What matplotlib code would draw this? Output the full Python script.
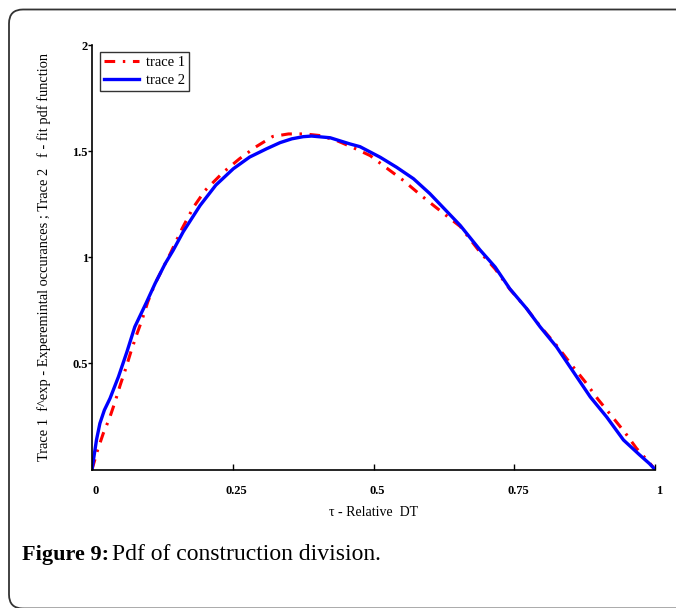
import matplotlib
matplotlib.use('Agg')
import matplotlib.pyplot as plt
import matplotlib.transforms as mtransforms
from matplotlib.patches import FancyBboxPatch

plt.rcParams['font.family'] = ['Liberation Serif', 'DejaVu Serif']

# trace 1 - experimental occurances (red, dash-dot)
x1 = [0.0, 0.010, 0.020, 0.031, 0.041, 0.050, 0.060, 0.069, 0.079, 0.089, 0.099,
      0.112, 0.127, 0.139, 0.160, 0.180, 0.201, 0.233, 0.262, 0.291, 0.321, 0.349,
      0.378, 0.406, 0.437, 0.465, 0.494, 0.523, 0.553, 0.581, 0.609, 0.630, 0.654,
      0.689, 0.716, 0.742, 0.772, 0.796, 0.825, 0.852, 0.876, 0.899, 0.923, 0.947,
      0.967, 0.991, 1.0]
y1 = [0.0, 0.092, 0.170, 0.241, 0.319, 0.397, 0.476, 0.554, 0.633, 0.706, 0.789,
      0.876, 0.954, 1.017, 1.135, 1.235, 1.315, 1.400, 1.464, 1.520, 1.569, 1.581,
      1.581, 1.573, 1.547, 1.515, 1.479, 1.421, 1.362, 1.299, 1.239, 1.195, 1.145,
      1.025, 0.945, 0.850, 0.758, 0.675, 0.585, 0.492, 0.413, 0.330, 0.252, 0.173,
      0.100, 0.029, 0.0]

# trace 2 - fit pdf function (blue)
x2 = [0.0, 0.004, 0.008, 0.014, 0.022, 0.032, 0.047, 0.062, 0.076, 0.097, 0.112,
      0.130, 0.144, 0.162, 0.192, 0.220, 0.251, 0.280, 0.310, 0.334, 0.355, 0.375,
      0.390, 0.423, 0.458, 0.476, 0.512, 0.541, 0.571, 0.600, 0.627, 0.654, 0.689,
      0.716, 0.742, 0.772, 0.796, 0.825, 0.855, 0.885, 0.914, 0.944, 0.973, 0.990,
      1.0]
y2 = [0.0, 0.07, 0.14, 0.217, 0.280, 0.335, 0.437, 0.554, 0.672, 0.789, 0.876,
      0.970, 1.032, 1.120, 1.244, 1.340, 1.417, 1.472, 1.511, 1.540, 1.558, 1.568,
      1.571, 1.563, 1.534, 1.521, 1.471, 1.424, 1.370, 1.300, 1.225, 1.150, 1.035,
      0.954, 0.852, 0.758, 0.672, 0.578, 0.460, 0.342, 0.248, 0.139, 0.068, 0.028,
      0.0]

xticks = [0, 0.25, 0.5, 0.75, 1]
xtick_labels = ['0', '0.25', '0.5', '0.75', '1']
yticks = [0.5, 1, 1.5, 2]
ytick_labels = ['0.5', '1', '1.5', '2']

fig = plt.figure(figsize=(6.76, 6.08), dpi=100)

# rounded frame round the whole figure
frame = FancyBboxPatch((9, -0.5), 700, 599, boxstyle='round,pad=0,rounding_size=14',
                       transform=None, facecolor='none', edgecolor='#333333',
                       linewidth=1.3)
fig.patches.append(frame)

ax = fig.add_axes([92 / 676, 1 - 469.5 / 608, 563 / 676, 424.5 / 608])
ax.plot(x1, y1, color='red', linewidth=2.2, linestyle=(0, (3.5, 2.5, 0.8, 2.5)),
        label='trace 1')
ax.plot(x2, y2, color='#0000ff', linewidth=2.4, label='trace 2')

ax.set_xlim(0, 1)
ax.set_ylim(0, 2)
for side in ['top', 'right']:
    ax.spines[side].set_visible(False)
for side in ['left', 'bottom']:
    ax.spines[side].set_linewidth(1.2)

ax.set_xticks(xticks)
ax.set_xticklabels(xtick_labels, fontsize=9, fontweight='bold')
ax.set_yticks(yticks)
ax.set_yticklabels(ytick_labels, fontsize=9, fontweight='bold')
ax.tick_params(axis='x', direction='in', length=4, width=1, pad=11)
ax.tick_params(axis='y', direction='out', length=3, width=1, pad=0)

# x tick labels sit a little right of their ticks
shift = mtransforms.ScaledTranslation(4 / 100, 0, fig.dpi_scale_trans)
for lbl in ax.get_xticklabels():
    lbl.set_transform(lbl.get_transform() + shift)

ax.set_xlabel('τ - Relative  DT', fontsize=10, labelpad=7)
ax.set_ylabel('Trace 1  f^exp - Experemintal occurances ; Trace 2   f - fit pdf function',
              fontsize=10.4, labelpad=15)

leg = ax.legend(loc='upper left', bbox_to_anchor=(8 / 563, 1 - 7 / 424.5),
                fontsize=10.5, frameon=True, fancybox=False, handlelength=2.4,
                borderpad=0.25, labelspacing=0.35, handletextpad=0.5,
                borderaxespad=0)
leg.get_frame().set_edgecolor('black')
leg.get_frame().set_linewidth(1)

cap_y = 1 - 555 / 608
t1 = fig.text(22 / 676, cap_y, 'Figure 9:', fontsize=16, fontweight='bold',
              va='center', ha='left')
fig.canvas.draw()
bb = t1.get_window_extent()
fig.text((bb.x1 + 3) / 676, cap_y, 'Pdf of construction division.', fontsize=17,
         va='center', ha='left')

plt.savefig('out.png', dpi=100)
